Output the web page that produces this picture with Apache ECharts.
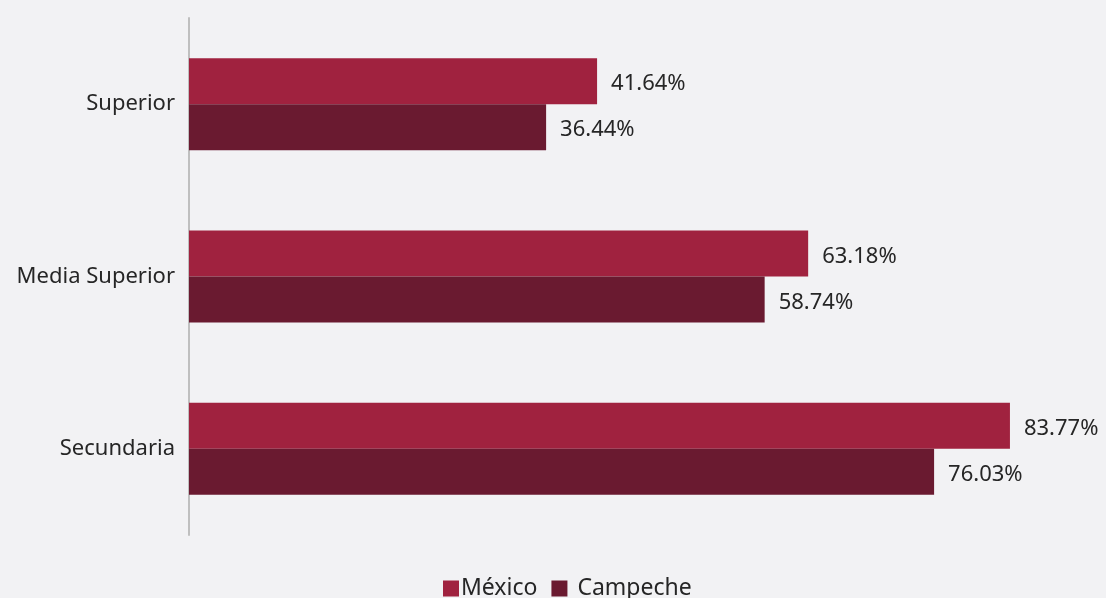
<!DOCTYPE html>
<html><head><meta charset="utf-8">
<script src="https://cdn.jsdelivr.net/npm/echarts@6/dist/echarts.min.js"></script>
<style>html,body{margin:0;padding:0;background:#f2f2f4;}#c{width:1106px;height:598px;}</style>
</head><body><div id="c"></div>
<script>
var categories = ['Superior', 'Media Superior', 'Secundaria'];
var mexico = [41.64, 63.18, 83.77];
var campeche = [36.44, 58.74, 76.03];
var seriesNames = ['México', 'Campeche'];

var chart = echarts.init(document.getElementById('c'));
var font = '"Noto Sans", "Open Sans", sans-serif';
var lbl = {show: true, position: 'right', distance: 14, offset: [0, 3], color: '#262626', fontSize: 22, fontFamily: font,
  formatter: function(p){ return p.value.toFixed(2) + '%'; }};
chart.setOption({
  backgroundColor: '#f2f2f4',
  animation: false,
  grid: {left: 189, right: 35, top: 18, bottom: 63},
  legend: {bottom: -7, left: 438, itemWidth: 16, itemHeight: 16, itemGap: 14,
    icon: 'rect',
    textStyle: {fontSize: 23, color: '#262626', fontFamily: font, padding: [0, 0, 0, -3]},
    data: [{name: seriesNames[0]},
           {name: seriesNames[1], textStyle: {padding: [0, 0, 0, 5]}}]},
  xAxis: {type: 'value', min: 0, max: 90, show: false},
  yAxis: {type: 'category', data: categories, inverse: true,
    axisLine: {show: true, lineStyle: {color: '#bfbfbf', width: 2}},
    axisTick: {show: false},
    axisLabel: {fontSize: 22, color: '#262626', fontFamily: font, margin: 14}},
  series: [
    {name: seriesNames[0], type: 'bar', data: mexico, barWidth: 46, barGap: '0%',
     itemStyle: {color: '#a0223f'}, label: lbl},
    {name: seriesNames[1], type: 'bar', data: campeche, barWidth: 46, barGap: '0%',
     itemStyle: {color: '#6a1a30'}, label: lbl}
  ]
});
</script></body></html>
